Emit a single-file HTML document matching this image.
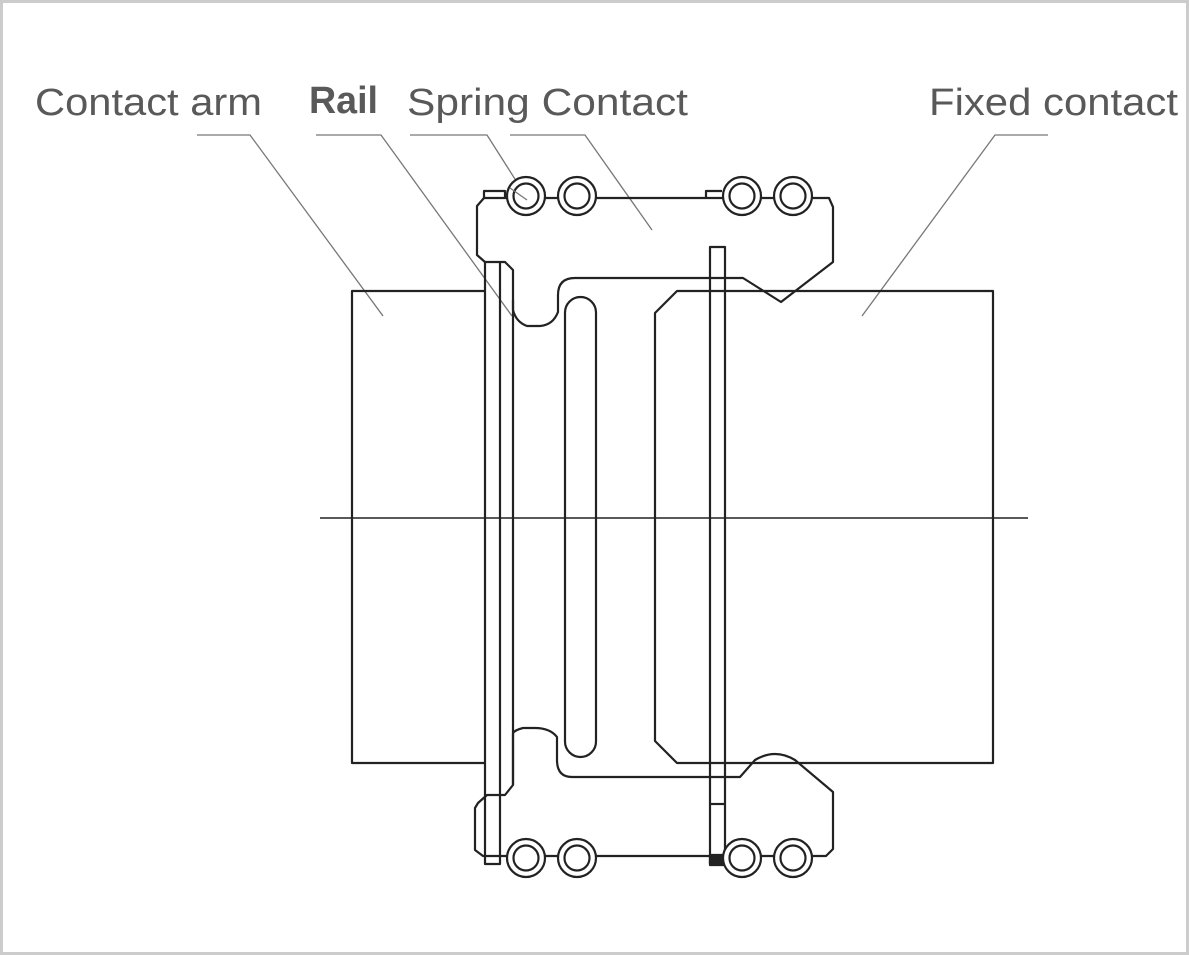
<!DOCTYPE html>
<html><head><meta charset="utf-8"><style>
html,body{margin:0;padding:0;background:#fff;}
svg{display:block;}
text{font-family:"Liberation Sans",sans-serif;fill:#595959;font-size:38px;}
</style></head><body>
<svg width="1189" height="955" viewBox="0 0 1189 955" xmlns="http://www.w3.org/2000/svg">
<rect x="1.5" y="1.5" width="1186" height="952" fill="#fff" stroke="#ccc" stroke-width="3"/>
<text x="35" y="115" textLength="227" lengthAdjust="spacingAndGlyphs">Contact arm</text>
<text x="309" y="113" font-weight="bold" textLength="69" lengthAdjust="spacingAndGlyphs">Rail</text>
<text x="407" y="115" textLength="281" lengthAdjust="spacingAndGlyphs">Spring Contact</text>
<text x="929" y="115" textLength="249" lengthAdjust="spacingAndGlyphs">Fixed contact</text>
<g stroke="#777" stroke-width="1.3" fill="none">
<polyline points="197,135 250,135 383,316"/>
<polyline points="316,135 381,135 512,316"/>
<polyline points="410,135 487,135 527,198"/>
<polyline points="510,135 585,135 652,230"/>
<polyline points="1048,135 995,135 862,316"/>
</g>
<g stroke="#222" stroke-width="2.2" fill="none" stroke-linejoin="round">
<line x1="320" y1="518" x2="1028" y2="518" stroke-width="1.5"/>
<polyline points="485,291 352,291 352,763 485,763"/>
<polygon points="677,291 993,291 993,763 677,763 655,741 655,313"/>
<rect x="565" y="297" width="31" height="460" rx="15.5"/>
<!-- top housing -->
<path d="M484,198 L829,198 L833,207 L833,262 L781,302 L743,278 L575,278 Q558,278 558,295 L558,312 Q553,325 540,326 L527,326 Q516,322 513,310 L513,270 L505,262 L485,262 L477,255 L477,206 L484,198"/>
<path d="M484,198 L484,191 L505,191 L505,198"/>
<path d="M706,198 L706,191 L722,191"/>
<!-- rail -->
<polyline points="485,262 485,864 500,864 500,262"/>
<line x1="513" y1="300" x2="513" y2="785"/>
<!-- bottom housing -->
<path d="M513,733 L513,785 L505,795 L487,795 L478,803 L475,808 L475,850 L483,856 L826,856 L833,849 L833,792 L795,760 Q775,748 755,760 L740,777 L572,777 Q557,777 557,760 L557,737 Q550,728 535,728 L523,728 Q515,730 513,733"/>
<rect x="710" y="247" width="15" height="618"/>
<line x1="710" y1="804" x2="725" y2="804"/>
<rect x="710" y="855" width="13" height="9" fill="#222"/>
<g fill="#fff">
<circle cx="526" cy="196" r="19"/><circle cx="526" cy="196" r="12.5"/>
<circle cx="577" cy="196" r="19"/><circle cx="577" cy="196" r="12.5"/>
<circle cx="742" cy="196" r="19"/><circle cx="742" cy="196" r="12.5"/>
<circle cx="793" cy="196" r="19"/><circle cx="793" cy="196" r="12.5"/>
<circle cx="526" cy="858" r="19"/><circle cx="526" cy="858" r="12.5"/>
<circle cx="577" cy="858" r="19"/><circle cx="577" cy="858" r="12.5"/>
<circle cx="742" cy="858" r="19"/><circle cx="742" cy="858" r="12.5"/>
<circle cx="793" cy="858" r="19"/><circle cx="793" cy="858" r="12.5"/>
</g>
</g>
<line x1="510" y1="188" x2="527" y2="200" stroke="#777" stroke-width="1.3"/>
</svg>
</body></html>
